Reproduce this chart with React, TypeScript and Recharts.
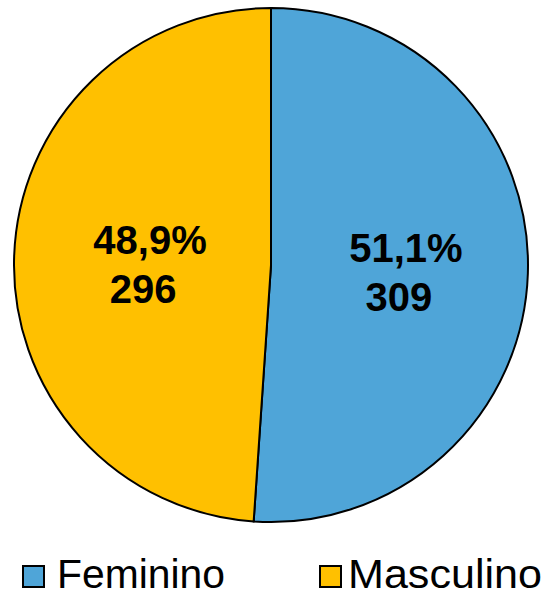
import React from 'react';
import { PieChart, Pie, Cell, Legend } from 'recharts';

const categories = ['Feminino', 'Masculino'];
const counts = [309, 296];
const percents = ['51,1%', '48,9%'];
const colors = ['#4FA5D8', '#FFC000'];

const data = categories.map((name, i) => ({ name, value: counts[i], pct: percents[i] }));

const RADIAN = Math.PI / 180;
const FONT = "'Liberation Sans', Arial, sans-serif";

const renderLabel = (props: any) => {
    const { cx, cy, midAngle, index } = props;
    const r = 128;
    const x = cx + r * Math.cos(-midAngle * RADIAN) + 7;
    const y = cy + r * Math.sin(-midAngle * RADIAN);
    return (
        <text
            x={x}
            y={y}
            textAnchor="middle"
            fontFamily={FONT}
            fontWeight="bold"
            fontSize={40}
            fill="#000"
        >
            <tspan x={x} y={y - 7}>{percents[index]}</tspan>
            <tspan x={x - 7} y={y + 42}>{counts[index]}</tspan>
        </text>
    );
};

// legend item layout: square left edge, text start, text width
const legendBox = [22, 319];
const legendText = [57, 348];
const legendWidth = [168, 194];

const renderLegend = () => (
    <svg width={544} height={38} style={{ display: 'block', overflow: 'visible' }}>
        {categories.map((name, i) => (
            <g key={name}>
                <rect
                    x={legendBox[i] + 1}
                    y={11}
                    width={21}
                    height={21}
                    fill={colors[i]}
                    stroke="#000"
                    strokeWidth={2}
                />
                <text
                    x={legendText[i]}
                    y={33}
                    fontFamily={FONT}
                    fontSize={41}
                    fill="#000"
                    textLength={legendWidth[i]}
                    lengthAdjust="spacingAndGlyphs"
                >
                    {name}
                </text>
            </g>
        ))}
    </svg>
);

const App = () => {
    return (
        <div style={{ position: 'absolute', left: 0, top: 0, width: 544, height: 593, background: '#fff' }}>
            <PieChart width={544} height={593} margin={{ top: 0, right: 0, bottom: 0, left: 0 }}>
                <Pie
                    data={data}
                    dataKey="value"
                    nameKey="name"
                    cx={271}
                    cy={265}
                    outerRadius={257}
                    startAngle={90}
                    endAngle={-270}
                    stroke="#000"
                    strokeWidth={2}
                    label={renderLabel}
                    labelLine={false}
                    isAnimationActive={false}
                >
                    {data.map((d, i) => (
                        <Cell key={d.name} fill={colors[i]} />
                    ))}
                </Pie>
                <Legend
                    content={renderLegend}
                    wrapperStyle={{ position: 'absolute', left: 0, top: 555, width: 544, height: 38 }}
                />
            </PieChart>
        </div>
    );
};

export default App;
